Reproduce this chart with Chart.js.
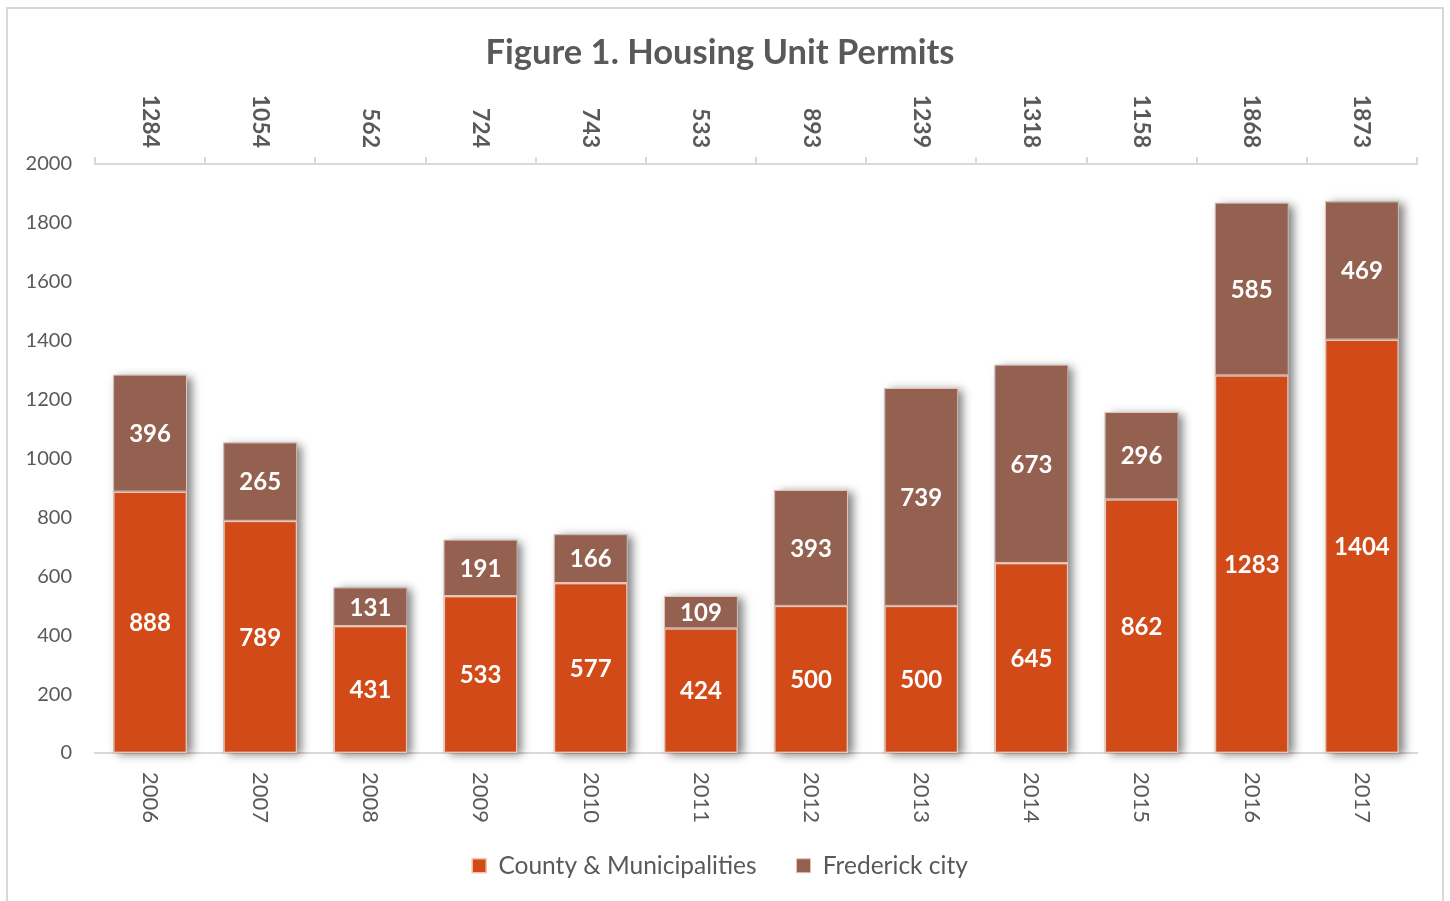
<!DOCTYPE html>
<html>
<head>
<meta charset="utf-8">
<title>Housing Unit Permits</title>
<script src="https://cdn.jsdelivr.net/npm/chart.js@4.4.1/dist/chart.umd.min.js"></script>
<style>
    html, body { margin: 0; padding: 0; background: #fff; }
    .wrap { position: relative; width: 1450px; height: 901px; overflow: hidden; }
    .frame { position: absolute; left: 6px; top: 7px; width: 1438px; height: 910px; border: 2px solid #d9d9d9; box-sizing: border-box; }
    canvas { position: absolute; left: 0; top: 0; }
</style>
</head>
<body>
<div class="wrap">
    <div class="frame"></div>
    <canvas id="permits" width="1450" height="901"></canvas>
</div>
<script>
// Data
const years = ['2006', '2007', '2008', '2009', '2010', '2011', '2012', '2013', '2014', '2015', '2016', '2017'];
const countyPermits = [888, 789, 431, 533, 577, 424, 500, 500, 645, 862, 1283, 1404];
const frederickPermits = [396, 265, 131, 191, 166, 109, 393, 739, 673, 296, 585, 469];
const totalLabels = ['1284', '1054', '562', '724', '743', '533', '893', '1239', '1318', '1158', '1868', '1873'];

const TEXT = '#595959';
const FONT = 'Lato, "Open Sans", sans-serif';

// soft shadow on the right side of each stacked bar
const barShadow = {
    id: 'barShadow',
    beforeDatasetsDraw(chart) {
        const ctx = chart.ctx;
        const bottomBars = chart.getDatasetMeta(0).data;
        const topBars = chart.getDatasetMeta(1).data;
        ctx.save();
        ctx.shadowColor = 'rgba(0,0,0,0.5)';
        ctx.shadowBlur = 9;
        ctx.shadowOffsetX = 5;
        ctx.shadowOffsetY = 2;
        ctx.fillStyle = '#9a9a9a';
        topBars.forEach((bar, i) => {
            const w = bar.width;
            const base = bottomBars[i].base;
            ctx.fillRect(bar.x - w / 2, bar.y, w, base - bar.y);
        });
        ctx.restore();
    }
};

// value labels inside segments + rotated axis labels
const barLabels = {
    id: 'barLabels',
    afterDatasetsDraw(chart) {
        const ctx = chart.ctx;
        ctx.save();
        ctx.font = 'bold 24px ' + FONT;
        ctx.fillStyle = '#ffffff';
        ctx.textAlign = 'center';
        ctx.textBaseline = 'middle';
        chart.data.datasets.forEach((ds, di) => {
            chart.getDatasetMeta(di).data.forEach((bar, i) => {
                ctx.fillText(String(ds.data[i]), bar.x, (bar.y + bar.base) / 2 + 1);
            });
        });
        ctx.restore();
    },
    afterDraw(chart) {
        const ctx = chart.ctx;
        const area = chart.chartArea;
        const xs = chart.scales.x;
        ctx.save();
        ctx.fillStyle = TEXT;
        ctx.textBaseline = 'middle';

        // totals on top axis, reading downwards, ending near the axis
        ctx.font = 'bold 23px ' + FONT;
        totalLabels.forEach((t, i) => {
            ctx.save();
            ctx.translate(xs.getPixelForValue(i), area.top - 16);
            ctx.rotate(Math.PI / 2);
            ctx.textAlign = 'right';
            ctx.fillText(t, 0, 0);
            ctx.restore();
        });

        // years under the bottom axis
        ctx.font = '22px ' + FONT;
        years.forEach((y, i) => {
            ctx.save();
            ctx.translate(xs.getPixelForValue(i), area.bottom + 19);
            ctx.rotate(Math.PI / 2);
            ctx.textAlign = 'left';
            ctx.fillText(y, 0, 0);
            ctx.restore();
        });
        ctx.restore();
    }
};

const ctx = document.getElementById('permits').getContext('2d');

new Chart(ctx, {
    type: 'bar',
    data: {
        labels: years,
        datasets: [{
            label: 'County & Municipalities',
            data: countyPermits,
            backgroundColor: '#d14a17',
            borderColor: '#f3c3ae',
            borderWidth: 1.5,
            borderSkipped: false
        }, {
            label: 'Frederick city',
            data: frederickPermits,
            backgroundColor: '#946151',
            borderColor: '#e9c2b6',
            borderWidth: 1,
            borderSkipped: false
        }]
    },
    options: {
        responsive: false,
        animation: false,
        devicePixelRatio: 1,
        layout: {
            padding: { left: 23, right: 33, top: 0, bottom: 13 }
        },
        datasets: {
            bar: { barPercentage: 0.67, categoryPercentage: 1 }
        },
        plugins: {
            title: {
                display: true,
                text: 'Figure 1. Housing Unit Permits',
                color: TEXT,
                font: { family: FONT, size: 34.5, weight: 'bold' },
                padding: { top: 32, bottom: 6 }
            },
            legend: {
                position: 'bottom',
                labels: {
                    color: TEXT,
                    font: { family: FONT, size: 24.5 },
                    boxWidth: 14,
                    boxHeight: 14,
                    padding: 40
                }
            },
            tooltip: { enabled: false }
        },
        scales: {
            x: {
                stacked: true,
                grid: { display: false },
                border: { display: true, color: '#d9d9d9', width: 2 },
                ticks: { display: false },
                afterFit(scale) { scale.height = 60.5; }
            },
            x2: {
                type: 'category',
                position: 'top',
                labels: totalLabels,
                offset: true,
                grid: {
                    display: true,
                    offset: true,
                    drawOnChartArea: false,
                    drawTicks: true,
                    tickLength: 7,
                    color: '#d9d9d9',
                    lineWidth: 2
                },
                border: { display: true, color: '#d9d9d9', width: 2 },
                ticks: { display: false },
                afterFit(scale) { scale.height = 84.6; }
            },
            y: {
                stacked: true,
                min: 0,
                max: 2000,
                grid: { display: false, drawTicks: false },
                border: { display: false },
                ticks: {
                    stepSize: 200,
                    color: TEXT,
                    padding: 23,
                    font: { family: FONT, size: 20 },
                    callback: (v) => String(v)
                },
                afterFit(scale) { scale.width = 72; }
            }
        }
    },
    plugins: [barShadow, barLabels]
});
</script>
</body>
</html>
